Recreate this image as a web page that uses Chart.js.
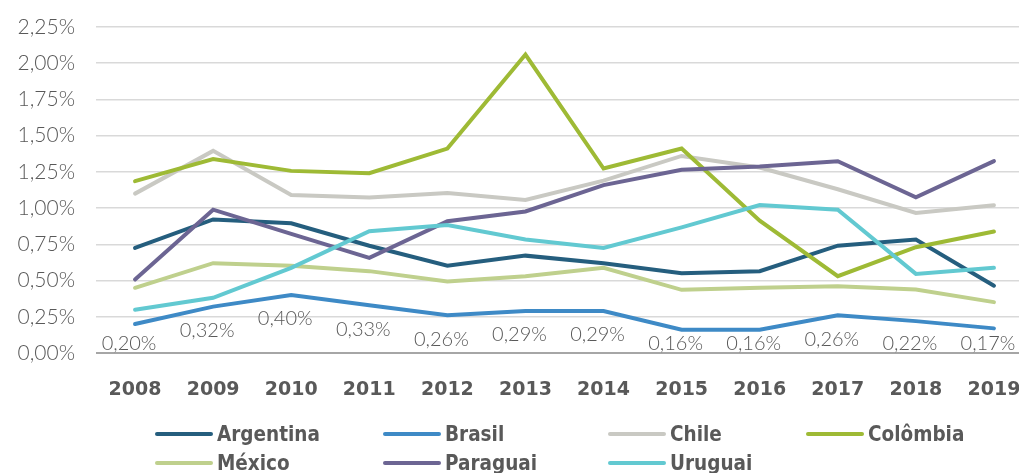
<!DOCTYPE html>
<html>
<head>
<meta charset="utf-8">
<script src="https://cdn.jsdelivr.net/npm/chart.js@4"></script>
<style>
  html, body { margin: 0; padding: 0; background: #fff; overflow: hidden; width: 1019px; height: 473px; }
  #wrap { position: relative; width: 1019px; height: 473px; overflow: hidden; }
  canvas { position: absolute; left: 0; top: 0; }
  #legend { position: absolute; left: 155px; top: 419px; display: grid;
    grid-template-columns: 228px 225px 198px 200px; grid-auto-rows: 29px; }
  .item { display: flex; align-items: center; font-family: "DejaVu Sans Condensed", "DejaVu Sans"; font-stretch: condensed;
    font-weight: bold; font-size: 20.5px; color: #595959; white-space: nowrap; }
  .swatch { width: 58px; height: 4px; margin-right: 4px; border-radius: 2px; }
</style>
</head>
<body>
<div id="wrap">
  <canvas id="c" width="1040" height="473"></canvas>
  <div id="legend"></div>
</div>
<script>
const years = ['2008','2009','2010','2011','2012','2013','2014','2015','2016','2017','2018','2019'];
const yTicks = [0, 0.25, 0.5, 0.75, 1.0, 1.25, 1.5, 1.75, 2.0, 2.25];

const argentina = [0.725, 0.922, 0.895, 0.74, 0.603, 0.672, 0.62, 0.55, 0.565, 0.741, 0.783, 0.464];
const brasil    = [0.20, 0.32, 0.40, 0.33, 0.26, 0.29, 0.29, 0.16, 0.16, 0.26, 0.22, 0.17];
const chile     = [1.10, 1.395, 1.09, 1.074, 1.104, 1.056, 1.19, 1.36, 1.28, 1.13, 0.966, 1.02];
const colombia  = [1.186, 1.338, 1.257, 1.241, 1.411, 2.06, 1.273, 1.411, 0.913, 0.53, 0.73, 0.838];
const mexico    = [0.45, 0.62, 0.603, 0.565, 0.494, 0.53, 0.588, 0.436, 0.45, 0.461, 0.438, 0.351];
const paraguai  = [0.507, 0.989, 0.822, 0.657, 0.909, 0.977, 1.159, 1.264, 1.287, 1.324, 1.074, 1.324];
const uruguai   = [0.299, 0.381, 0.588, 0.84, 0.884, 0.783, 0.725, 0.867, 1.021, 0.989, 0.546, 0.588];

const names  = ['Argentina','Brasil','Chile','Colômbia','México','Paraguai','Uruguai'];
const series = [argentina, brasil, chile, colombia, mexico, paraguai, uruguai];
const colors = ['#255E7E','#3E8AC6','#C9C9C3','#9EBA35','#BFD08D','#6C6593','#62C9D1'];

const fmt = v => v.toFixed(2).replace('.', ',') + '%';

const brasilLabels = {
  id: 'brasilLabels',
  afterDatasetsDraw(chart) {
    const meta = chart.getDatasetMeta(1);
    const ctx = chart.ctx;
    ctx.save();
    ctx.font = '300 20px Lato, "Open Sans", sans-serif';
    ctx.fillStyle = '#595959';
    ctx.textAlign = 'center';
    ctx.textBaseline = 'middle';
    const maxY = chart.chartArea.bottom - 9;
    meta.data.forEach((pt, i) => {
      ctx.fillText(fmt(brasil[i]), pt.x - 6, Math.min(pt.y + 24, maxY));
    });
    ctx.restore();
  }
};

new Chart(document.getElementById('c'), {
  type: 'line',
  data: {
    labels: years,
    datasets: series.map((d, i) => ({
      label: names[i], data: d, borderColor: colors[i], backgroundColor: colors[i],
      borderWidth: 4, pointRadius: 0, tension: 0, order: 6 - i, borderCapStyle: 'round', borderJoinStyle: 'miter'
    }))
  },
  options: {
    responsive: false, devicePixelRatio: 1, animation: false,
    layout: { padding: { top: 27, left: 0, right: 7, bottom: 70 } },
    plugins: { legend: { display: false }, tooltip: { enabled: false } },
    scales: {
      x: {
        offset: true,
        grid: { display: false, drawTicks: false },
        border: { display: false },
        ticks: { color: '#595959', font: { family: '"DejaVu Sans", sans-serif', size: 19, weight: 'bold' }, padding: 26, maxRotation: 0 },
        afterFit: s => { s.height = 50; s.paddingLeft = 0; s.paddingRight = 0; }
      },
      y: {
        min: 0, max: 2.25,
        afterBuildTicks: s => { s.ticks = yTicks.map(v => ({ value: v })); },
        grid: {
          drawTicks: false,
          color: c => c.tick && c.tick.value === 0 ? '#A6A6A6' : '#D9D9D9',
          lineWidth: c => c.tick && c.tick.value === 0 ? 2 : 1.5
        },
        border: { display: false },
        ticks: { color: '#595959', font: { family: 'Lato, "Open Sans", sans-serif', size: 21, weight: '300' }, padding: 21,
          callback: v => fmt(v) },
        afterFit: s => { s.width = 96; s.paddingTop = 0; s.paddingBottom = 0; }
      }
    }
  },
  plugins: [brasilLabels]
});

const leg = document.getElementById('legend');
names.forEach((n, i) => {
  const it = document.createElement('div');
  it.className = 'item';
  const sw = document.createElement('span');
  sw.className = 'swatch';
  sw.style.background = colors[i];
  it.appendChild(sw);
  it.appendChild(document.createTextNode(n));
  leg.appendChild(it);
});
</script>
</body>
</html>
